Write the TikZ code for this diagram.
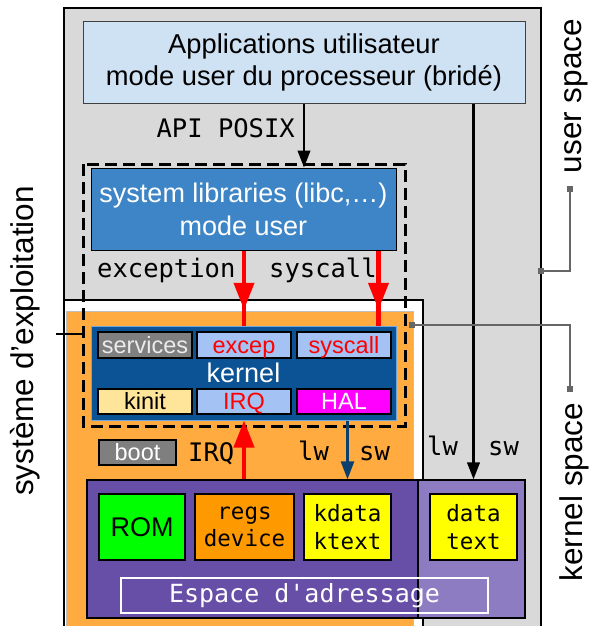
\documentclass[tikz,border=0pt]{standalone}
\usepackage{fontspec}
\setmainfont{Liberation Sans}
\setmonofont{DejaVu Sans Mono}
\usetikzlibrary{arrows.meta,decorations.markings,positioning}

\definecolor{greybg}{HTML}{D9D9D9}
\definecolor{appblue}{HTML}{CFE2F3}
\definecolor{libblue}{HTML}{3D85C6}
\definecolor{kernblue}{HTML}{0B5394}
\definecolor{kernedge}{HTML}{6FA8DC}
\definecolor{subblue}{HTML}{A4C2F4}
\definecolor{orangebg}{HTML}{FFAB40}
\definecolor{regsorange}{HTML}{FF9900}
\definecolor{purpledark}{HTML}{674EA7}
\definecolor{purplelight}{HTML}{8E7CC3}
\definecolor{kinityellow}{HTML}{FFE599}
\definecolor{greybox}{HTML}{7F7F7F}
\definecolor{arrblue}{HTML}{0B3F6E}
\definecolor{lnkgrey}{HTML}{666666}
\definecolor{halmag}{HTML}{FF00FF}
\definecolor{memyellow}{HTML}{FFFF00}
\definecolor{romgreen}{HTML}{00FF00}
\definecolor{arrred}{HTML}{FF0000}

\newcommand\fsz[2]{\fontsize{#1}{#2}\selectfont}

\begin{document}
\begin{tikzpicture}[x=1pt, y=-1pt,
  box/.style={draw=black, line width=1pt, inner sep=0pt, align=center},
  subbox/.style={box, line width=1.3pt, minimum width=94pt, minimum height=26pt,
    text height=19pt, text depth=3pt, font=\fsz{23.5}{28}},
  memcell/.style={box, line width=1.3pt, minimum height=66pt, fill=memyellow, font=\ttfamily\fsz{22.5}{27.6}},
  lbl/.style={inner sep=0pt, font=\ttfamily\fsz{25.5}{30}},
  side/.style={rotate=90, inner sep=0pt, font=\fsz{31.5}{36}},
  blk/.style={-{Triangle[length=17pt,width=12.5pt]}, line width=2.5pt},
  bluearr/.style={-{Triangle[length=18pt,width=13pt]}, line width=2.5pt, arrblue},
  redup/.style={-{Triangle[length=27pt,width=20pt]}, line width=4.3pt, arrred},
  reddown/.style={line width=4.3pt, arrred, postaction={decorate},
    decoration={markings, mark=at position 0.79 with {\arrow{Triangle[length=27pt,width=20pt]}}}},
  link/.style={{Square[length=6pt,width=6pt]}-{Square[length=6pt,width=6pt]}, lnkgrey, line width=1.5pt,
    shorten <=-3pt, shorten >=-3pt}]

\useasboundingbox (0,0) rectangle (589,626);
\clip (0,0) rectangle (589,626);

% regions
\fill[greybg, draw=black, line width=1.3pt] (64,8) rectangle (541,700);
\fill[white, draw=black, line width=1.3pt] (64,300) rectangle (423,700);
\fill[orangebg, draw=black!25, line width=0.8pt] (66,311) rectangle (413,700);

% user side
\node[box, fill=appblue, draw=black!75, minimum width=442pt, minimum height=81pt,
  font=\fsz{27.3}{31.5}] (apps) at (304,62.5) {Applications utilisateur\\mode user du processeur (bridé)};
\node[box, fill=libblue, text=white, minimum width=305pt, minimum height=82pt,
  font=\fsz{27}{33}] (syslib) at (243.5,209) {system libraries (libc,…)\\mode user};

% kernel
\node[box, fill=kernblue, draw=kernedge, text=white, minimum width=305pt, minimum height=94pt,
  font=\fsz{27}{30}] (kernel) at (243.5,373) {kernel};
\node[subbox, fill=greybox, text=white!92!black] (services) at (145,345) {services};
\node[subbox, fill=subblue, text=arrred] (excep) at (244,345) {excep};
\node[subbox, fill=subblue, text=arrred] (syscall) at (344,345) {syscall};
\node[subbox, fill=kinityellow, minimum height=25pt] (kinit) at (145,401.5) {kinit};
\node[subbox, fill=subblue, text=arrred, minimum height=25pt] (irq) at (244,401.5) {IRQ};
\node[subbox, fill=halmag, text=white, minimum height=25pt] (hal) at (344,401.5) {HAL};
\node[subbox, fill=greybox, text=white, minimum width=77pt, minimum height=25pt] (boot) at (137.5,452.5) {boot};

% dashed frame of the OS
\draw[dash pattern=on 12pt off 6pt, line width=3pt] (83,164) rectangle (405,426);

% address space
\node[box, fill=purpledark, line width=1.3pt, minimum width=331pt, minimum height=138pt] (addr) at (252.5,549) {};
\node[box, fill=purplelight, line width=1.3pt, minimum width=107pt, minimum height=138pt] (addru) at (471.5,549) {};
\node[box, fill=romgreen, line width=1.3pt, minimum width=86pt, minimum height=66pt, font=\fsz{27}{30}] (rom) at (142,527) {ROM};
\node[memcell, fill=regsorange, minimum width=99pt] (regs) at (244.5,527) {regs\\device};
\node[memcell, minimum width=87pt] (kdata) at (347.5,527) {kdata\\ktext};
\node[memcell, minimum width=87pt] (data) at (473.5,527) {data\\text};
\node[box, draw=white, line width=2.5pt, minimum width=367pt, minimum height=35pt, text=white,
  font=\ttfamily\fsz{25}{30}] (espace) at (304.5,595.5) {Espace d'adressage};

% arrows
\draw[blk] (apps.south) -- (apps.south |- syslib.north);
\draw[blk] (data |- apps.south) -- (data |- addru.north);
\draw[reddown] (excep |- syslib.south) -- (excep |- kernel.north);
\draw[reddown] ([xshift=-18pt]syslib.south east) -- ([xshift=-18pt]kernel.north east);
\draw[redup] (irq |- addr.north) -- (irq |- kernel.south);
\draw[bluearr] (kdata |- kernel.south) -- (kdata |- addr.north);

% labels
\node[lbl, anchor=base east] (api) at (295,137) {API POSIX};
\node[lbl, anchor=base west] (exlbl) at (97,277) {exception};
\node[lbl, anchor=base west] (sclbl) at (269,277) {syscall};
\node[lbl, anchor=base west] (irqlbl) at (188,461) {IRQ};
\node[lbl, anchor=base west] (klw) at (298,460) {lw};
\node[lbl, anchor=base west] (ksw) at (359,460) {sw};
\node[lbl, anchor=base west] (ulw) at (427,455) {lw};
\node[lbl, anchor=base west] (usw) at (488,455) {sw};

% side labels
\node[side] (oslbl) at (25.5,341) {système d'exploitation};
\node[side] (userlbl) at (576.5,96) {user space};
\node[side] (kernlbl) at (574,492) {kernel space};

\coordinate (ostick) at (56,334);
\coordinate (osframe) at (83,334);
\draw[line width=2pt] (ostick) -- (osframe);

\coordinate (userend) at (570,189);
\coordinate (userbend) at (570,271);
\coordinate (useredge) at (541,271);
\draw[link] (userend) -- (userbend) -- (useredge);

\coordinate (kernstart) at (412,325);
\coordinate (kernbend) at (570,325);
\coordinate (kernend) at (570,389);
\draw[link] (kernstart) -- (kernbend) -- (kernend);

\end{tikzpicture}
\end{document}
